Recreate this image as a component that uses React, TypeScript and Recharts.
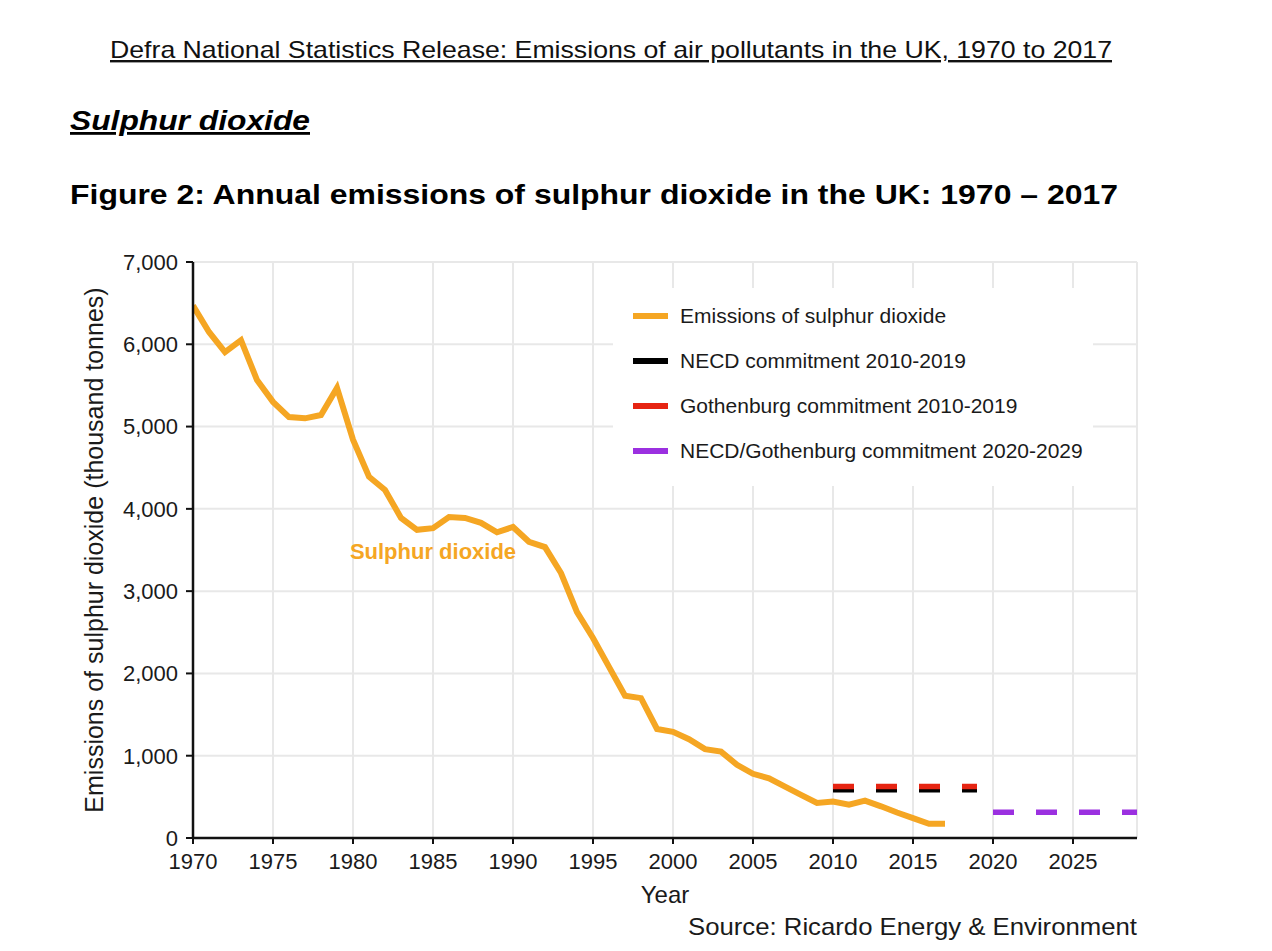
import {
  LineChart,
  Line,
  XAxis,
  YAxis,
  CartesianGrid,
  Legend,
  ReferenceDot,
} from "recharts";

const FONT = '"Liberation Sans", Arial, Helvetica, sans-serif';

// Annual SO2 emissions, thousand tonnes
const YEARS = [
  1970, 1971, 1972, 1973, 1974, 1975, 1976, 1977, 1978, 1979,
  1980, 1981, 1982, 1983, 1984, 1985, 1986, 1987, 1988, 1989,
  1990, 1991, 1992, 1993, 1994, 1995, 1996, 1997, 1998, 1999,
  2000, 2001, 2002, 2003, 2004, 2005, 2006, 2007, 2008, 2009,
  2010, 2011, 2012, 2013, 2014, 2015, 2016, 2017,
];
const SO2 = [
  6470, 6150, 5905, 6050, 5565, 5300, 5115, 5100, 5140, 5470,
  4840, 4390, 4230, 3890, 3745, 3765, 3900, 3890, 3830, 3715,
  3780, 3600, 3535, 3220, 2745, 2430, 2080, 1730, 1700, 1325,
  1290, 1200, 1080, 1050, 890, 780, 725, 625, 525, 425,
  443, 405, 455, 385, 310, 242, 173, 173,
];

// Commitments (flat ceilings over their periods)
const PERIOD_2010 = [2010, 2019];
const PERIOD_2020 = [2020, 2029];
const NECD_2010 = 585;
const GOTHENBURG_2010 = 625;
const COMMIT_2020 = 312;

const X_TICKS = [1970, 1975, 1980, 1985, 1990, 1995, 2000, 2005, 2010, 2015, 2020, 2025];
const Y_TICKS = [0, 1000, 2000, 3000, 4000, 5000, 6000, 7000];

const ORANGE = "#f5a623";
const BLACK = "#000000";
const RED = "#e62412";
const PURPLE = "#9b30e0";

const SERIES = [
  { name: "Emissions of sulphur dioxide", color: ORANGE },
  { name: "NECD commitment 2010-2019", color: BLACK },
  { name: "Gothenburg commitment 2010-2019", color: RED },
  { name: "NECD/Gothenburg commitment 2020-2029", color: PURPLE },
];

// where the in-chart series label sits
const LABEL_YEAR = 1985;
const LABEL_VALUE = 3490;

const so2Data = YEARS.map((year, i) => ({ year, value: SO2[i] }));
const flat = (years: number[], value: number) => years.map((year) => ({ year, value }));

const necdData = flat(PERIOD_2010, NECD_2010);
const gothData = flat(PERIOD_2010, GOTHENBURG_2010);
const futureData = flat(PERIOD_2020, COMMIT_2020);

function LegendBox() {
  return (
    <div
      style={{
        background: "#fff",
        width: 480,
        height: 198,
        paddingTop: 5.5,
        boxSizing: "border-box",
        fontFamily: FONT,
      }}
    >
      {SERIES.map((s) => (
        <div key={s.name} style={{ display: "flex", alignItems: "center", height: 45 }}>
          <span
            style={{
              display: "inline-block",
              width: 35,
              height: 6,
              background: s.color,
              marginLeft: 20,
              marginRight: 12,
            }}
          />
          <span style={{ fontSize: 21, color: "#1a1a1a", whiteSpace: "nowrap" }}>{s.name}</span>
        </div>
      ))}
    </div>
  );
}

const axisText = { fontSize: 22, fill: "#1a1a1a", fontFamily: FONT };

export default function App() {
  return (
    <div style={{ position: "absolute", left: 0, top: 0, width: 1272, height: 951, background: "#fff" }}>
      <LineChart
        width={1272}
        height={951}
        margin={{ top: 262, right: 135, bottom: 53, left: 80 }}
      >
        <CartesianGrid stroke="#e8e8e8" strokeWidth={2} />
        <XAxis
          type="number"
          dataKey="year"
          domain={[1970, 2029]}
          ticks={X_TICKS}
          interval={0}
          allowDataOverflow
          height={60}
          tickSize={6}
          tickMargin={9}
          axisLine={{ stroke: "#111", strokeWidth: 2.5 }}
          tickLine={{ stroke: "#111", strokeWidth: 2 }}
          tick={axisText}
          label={{
            value: "Year",
            position: "insideBottom",
            offset: -5,
            fontSize: 24,
            fill: "#1a1a1a",
            fontFamily: FONT,
          }}
        />
        <YAxis
          type="number"
          domain={[0, 7000]}
          ticks={Y_TICKS}
          interval={0}
          width={113}
          tickSize={7}
          tickMargin={8}
          axisLine={{ stroke: "#111", strokeWidth: 2.5 }}
          tickLine={{ stroke: "#111", strokeWidth: 2 }}
          tick={axisText}
          tickFormatter={(v: number) => v.toLocaleString("en-GB")}
          label={{
            value: "Emissions of sulphur dioxide (thousand tonnes)",
            angle: -90,
            position: "insideLeft",
            offset: 14,
            fontSize: 25,
            fill: "#1a1a1a",
            fontFamily: FONT,
            style: { textAnchor: "middle" },
          }}
        />
        <Legend
          layout="vertical"
          align="center"
          verticalAlign="middle"
          content={() => <LegendBox />}
          wrapperStyle={{ left: 613, top: 288, width: 480, height: 198 }}
        />

        <Line
          data={necdData}
          dataKey="value"
          name="NECD commitment 2010-2019"
          stroke={BLACK}
          strokeWidth={5.5}
          strokeDasharray="21 22"
          dot={false}
          isAnimationActive={false}
        />
        <Line
          data={gothData}
          dataKey="value"
          name="Gothenburg commitment 2010-2019"
          stroke={RED}
          strokeWidth={5.5}
          strokeDasharray="21 22"
          dot={false}
          isAnimationActive={false}
        />
        <Line
          data={futureData}
          dataKey="value"
          name="NECD/Gothenburg commitment 2020-2029"
          stroke={PURPLE}
          strokeWidth={5.5}
          strokeDasharray="21 22"
          dot={false}
          isAnimationActive={false}
        />
        <Line
          data={so2Data}
          dataKey="value"
          name="Emissions of sulphur dioxide"
          stroke={ORANGE}
          strokeWidth={6}
          dot={false}
          isAnimationActive={false}
        />

        <ReferenceDot
          x={LABEL_YEAR}
          y={LABEL_VALUE}
          r={0}
          stroke="none"
          fill="none"
          label={{
            value: "Sulphur dioxide",
            position: "center",
            fill: ORANGE,
            fontSize: 22,
            fontWeight: 700,
            fontFamily: FONT,
          }}
        />
      </LineChart>

      {/* document headings and source note */}
      <svg
        width={1272}
        height={951}
        style={{ position: "absolute", left: 0, top: 0, pointerEvents: "none" }}
      >
        <text
          x={110}
          y={58}
          fontFamily={FONT}
          fontSize={24}
          fill="#111"
          textLength={1002}
          lengthAdjust="spacingAndGlyphs"
          style={{ textDecoration: "underline" }}
        >
          Defra National Statistics Release: Emissions of air pollutants in the UK, 1970 to 2017
        </text>
        <text
          x={70}
          y={130}
          fontFamily={FONT}
          fontSize={28}
          fontWeight={700}
          fontStyle="italic"
          fill="#000"
          textLength={240}
          lengthAdjust="spacingAndGlyphs"
          style={{ textDecoration: "underline" }}
        >
          Sulphur dioxide
        </text>
        <text
          x={70}
          y={204}
          fontFamily={FONT}
          fontSize={28}
          fontWeight={700}
          fill="#000"
          textLength={1048}
          lengthAdjust="spacingAndGlyphs"
        >
          Figure 2: Annual emissions of sulphur dioxide in the UK: 1970 – 2017
        </text>
        <text
          x={688}
          y={935}
          fontFamily={FONT}
          fontSize={24}
          fill="#1a1a1a"
          textLength={449}
          lengthAdjust="spacingAndGlyphs"
        >
          Source: Ricardo Energy &amp; Environment
        </text>
      </svg>
    </div>
  );
}
